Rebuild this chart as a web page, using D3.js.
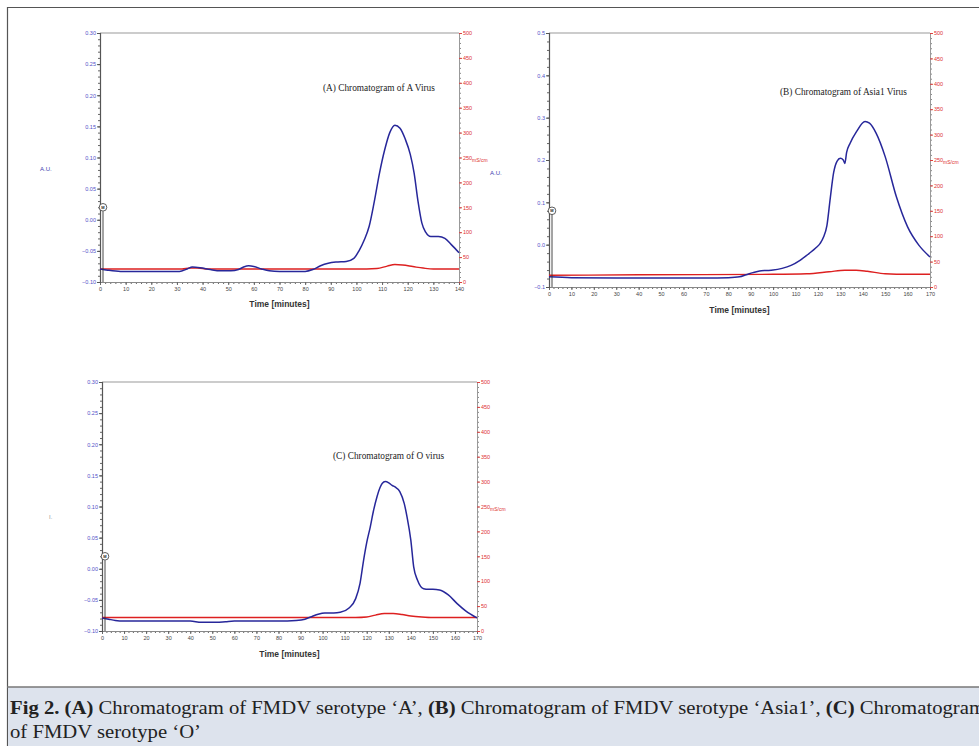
<!DOCTYPE html>
<html>
<head>
<meta charset="utf-8">
<script src="https://cdn.jsdelivr.net/npm/d3@7"></script>
<style>
  body { margin: 0; background: #fff; }
  svg { display: block; }
</style>
</head>
<body>
<script>
// ---- data ----
// (A) serotype A
var timeA = [0, 3, 8, 15, 25, 31, 34, 36, 39, 43, 47, 51, 54, 56, 58, 60, 63, 66, 70, 75, 80, 83, 86, 89, 92, 96, 99, 101, 103, 105, 107, 109, 111, 113, 115, 117, 119, 121, 122.5, 124, 125.5, 127, 129, 132, 134.5, 137, 140];
var uvA = [-0.079, -0.081, -0.083, -0.083, -0.083, -0.083, -0.079, -0.076, -0.077, -0.080, -0.082, -0.082, -0.080, -0.076, -0.074, -0.075, -0.079, -0.082, -0.083, -0.083, -0.083, -0.080, -0.074, -0.070, -0.068, -0.067, -0.062, -0.050, -0.033, -0.010, 0.030, 0.075, 0.112, 0.140, 0.152, 0.147, 0.130, 0.105, 0.075, 0.030, -0.005, -0.020, -0.027, -0.027, -0.030, -0.040, -0.053];
var condTimeA = [0, 32, 35, 38, 42, 100, 108, 112, 115, 118, 122, 126, 130, 140];
var condA = [26, 26, 28, 28, 26, 26, 27, 32, 35, 34, 31, 28, 26, 26];

// (B) serotype Asia1
var timeB = [0, 10, 30, 50, 70, 80, 85, 88, 91, 94, 97, 100, 104, 108, 112, 116, 119, 121, 122.5, 124, 125.5, 127, 128.5, 130, 131.3, 132, 132.8, 134.3, 137.2, 141, 143, 146, 150, 155, 160, 165, 170];
var uvB = [-0.076, -0.078, -0.079, -0.079, -0.079, -0.078, -0.076, -0.071, -0.066, -0.062, -0.061, -0.060, -0.056, -0.049, -0.037, -0.021, -0.008, 0.003, 0.018, 0.045, 0.110, 0.170, 0.197, 0.204, 0.200, 0.192, 0.218, 0.239, 0.267, 0.291, 0.287, 0.263, 0.208, 0.113, 0.042, -0.001, -0.029];
var condTimeB = [0, 40, 100, 115, 125, 132, 137, 142, 150, 160, 170];
var condB = [23, 24, 25, 26, 30, 33, 33, 31, 26, 25, 25];

// (C) serotype O
var timeC = [0, 3, 6, 10, 20, 30, 40, 45, 52, 56, 60, 70, 80, 88, 92, 95, 98, 101, 105, 108, 112, 115, 117, 118.6, 120, 121.6, 123, 124.7, 126, 127, 128.4, 130, 131.5, 133, 135, 137, 138.3, 140, 141.3, 143, 145.8, 148, 150, 153, 157, 161, 165, 170];
var uvC = [-0.079, -0.081, -0.083, -0.084, -0.084, -0.084, -0.084, -0.086, -0.086, -0.085, -0.084, -0.084, -0.084, -0.083, -0.081, -0.077, -0.073, -0.071, -0.071, -0.070, -0.063, -0.048, -0.023, 0.014, 0.042, 0.067, 0.092, 0.116, 0.130, 0.137, 0.140, 0.138, 0.134, 0.131, 0.124, 0.105, 0.083, 0.046, 0.003, -0.018, -0.032, -0.033, -0.033, -0.034, -0.042, -0.056, -0.068, -0.079];
var condTimeC = [0, 115, 120, 124, 128, 132, 136, 140, 145, 150, 170];
var condC = [27, 27, 28, 32, 35, 35, 33, 30, 28, 27, 27];

// ticks
var xTicks140 = [0, 10, 20, 30, 40, 50, 60, 70, 80, 90, 100, 110, 120, 130, 140];
var xTicks170 = [0, 10, 20, 30, 40, 50, 60, 70, 80, 90, 100, 110, 120, 130, 140, 150, 160, 170];
var auTicks030 = [-0.10, -0.05, 0.00, 0.05, 0.10, 0.15, 0.20, 0.25, 0.30];
var auTicks05 = [-0.1, 0.0, 0.1, 0.2, 0.3, 0.4, 0.5];
var condTicks = [0, 50, 100, 150, 200, 250, 300, 350, 400, 450, 500];

var titles = ["(A) Chromatogram of A Virus", "(B) Chromatogram of Asia1 Virus", "(C) Chromatogram of O virus"];

var W = 979, H = 746;
var blue = "#27279a", red = "#dd2020";
var serif = "'Liberation Serif', 'DejaVu Serif', serif";
var sans = "Arial, 'Liberation Sans', sans-serif";

var svg = d3.select("body").append("svg")
            .attr("width", W)
            .attr("height", H);

// outer frame
svg.append("path")
   .attr("d", "M7.5," + H + " L7.5,7.5 L" + (W + 5) + ",7.5")
   .attr("fill", "none")
   .attr("stroke", "#555")
   .attr("stroke-width", 1.2);

// caption band
svg.append("rect")
   .attr("x", 8).attr("y", 687)
   .attr("width", W).attr("height", H - 687)
   .attr("fill", "#dde3ed");
svg.append("line")
   .attr("x1", 7).attr("x2", W).attr("y1", 687).attr("y2", 687)
   .attr("stroke", "#777").attr("stroke-width", 1.5);

var line1 = [["Fig 2. ", true], ["(A)", true], [" Chromatogram of FMDV serotype \u2018A\u2019, ", false], ["(B)", true],
             [" Chromatogram of FMDV serotype \u2018Asia1\u2019, ", false], ["(C)", true], [" Chromatogram", false]];
var cap1 = svg.append("text")
   .attr("x", 10).attr("y", 714)
   .attr("font-family", serif).attr("font-size", 19).attr("fill", "#222");
line1.forEach(function(p){
    cap1.append("tspan").attr("font-weight", p[1] ? "bold" : "normal").text(p[0]);
});
var cap2 = svg.append("text")
   .attr("x", 10).attr("y", 738)
   .attr("font-family", serif).attr("font-size", 19).attr("fill", "#222")
   .text("of FMDV serotype \u2018O\u2019");
// squeeze/stretch to the condensed caption face of the original
var ratio = 975 / cap1.node().getComputedTextLength();
cap1.attr("textLength", 975).attr("lengthAdjust", "spacingAndGlyphs");
cap2.attr("textLength", cap2.node().getComputedTextLength() * ratio).attr("lengthAdjust", "spacingAndGlyphs");

function drawChart(cfg){
    var x = d3.scaleLinear().domain(cfg.xDomain).range([cfg.x0, cfg.x1]);
    var yL = d3.scaleLinear().domain(cfg.auDomain).range([cfg.yBot, cfg.yTop]);
    var yR = d3.scaleLinear().domain([0, 500]).range([cfg.yBot, cfg.yTop]);
    var g = svg.append("g");

    // top border
    g.append("line")
     .attr("x1", cfg.x0).attr("x2", cfg.x1).attr("y1", cfg.yTop).attr("y2", cfg.yTop)
     .attr("stroke", "#999").attr("stroke-width", 1);

    // minor ticks
    var minor = function(axis){
        return axis.tickSize(2).tickFormat("");
    };
    g.append("g").attr("transform", "translate(0," + cfg.yBot + ")")
     .call(minor(d3.axisBottom(x).tickValues(d3.range(cfg.xDomain[0], cfg.xDomain[1] + 0.1, 2))))
     .call(function(s){ s.select(".domain").remove(); s.selectAll("line").attr("stroke", "#666"); });
    g.append("g").attr("transform", "translate(" + cfg.x0 + ",0)")
     .call(minor(d3.axisLeft(yL).tickValues(d3.range(cfg.auDomain[0], cfg.auDomain[1] + 1e-6, cfg.auMinor))))
     .call(function(s){ s.select(".domain").remove(); s.selectAll("line").attr("stroke", "#666"); });
    g.append("g").attr("transform", "translate(" + cfg.x1 + ",0)")
     .call(minor(d3.axisRight(yR).tickValues(d3.range(0, 501, 10))))
     .call(function(s){ s.select(".domain").remove(); s.selectAll("line").attr("stroke", "#888"); });

    // major axes
    var xAxis = g.append("g").attr("transform", "translate(0," + cfg.yBot + ")")
     .call(d3.axisBottom(x).tickValues(cfg.xTicks).tickSize(3).tickPadding(2).tickFormat(d3.format("d")));
    xAxis.select(".domain").attr("stroke", "#888");
    xAxis.selectAll("line").attr("stroke", "#666");
    xAxis.selectAll("text").attr("fill", "#444").attr("font-size", 5.5).attr("font-family", sans);

    var lAxis = g.append("g").attr("transform", "translate(" + cfg.x0 + ",0)")
     .call(d3.axisLeft(yL).tickValues(cfg.auTicks).tickSize(3).tickPadding(1).tickFormat(d3.format(cfg.auFormat)));
    lAxis.select(".domain").attr("stroke", "#555").attr("stroke-width", 1.2);
    lAxis.selectAll("line").attr("stroke", "#555");
    lAxis.selectAll("text").attr("fill", "#5050c8").attr("font-size", 5.5).attr("font-family", sans);

    var rAxis = g.append("g").attr("transform", "translate(" + cfg.x1 + ",0)")
     .call(d3.axisRight(yR).tickValues(condTicks).tickSize(3).tickPadding(1).tickFormat(d3.format("d")));
    rAxis.select(".domain").attr("stroke", "#999");
    rAxis.selectAll("line").attr("stroke", "#dd4040");
    rAxis.selectAll("text").attr("fill", "#dd3030").attr("font-size", 5.5).attr("font-family", sans);

    // conductivity (red) and UV (blue)
    var condLine = d3.line().x(function(d){ return x(d[0]); }).y(function(d){ return yR(d[1]); }).curve(d3.curveMonotoneX);
    var uvLine = d3.line().x(function(d){ return x(d[0]); }).y(function(d){ return yL(d[1]); }).curve(d3.curveMonotoneX);

    g.append("path")
     .datum(d3.zip(cfg.condTime, cfg.cond))
     .attr("d", condLine)
     .attr("fill", "none").attr("stroke", red).attr("stroke-width", 1.4);
    g.append("path")
     .datum(d3.zip(cfg.time, cfg.uv))
     .attr("d", uvLine)
     .attr("fill", "none").attr("stroke", blue).attr("stroke-width", 1.5);

    // injection marker "M"
    var mx = x(cfg.xDomain[0]) + 3, my = yL(cfg.markerAU);
    g.append("line")
     .attr("x1", mx).attr("x2", mx).attr("y1", my + 4).attr("y2", cfg.yBot)
     .attr("stroke", "#333").attr("stroke-width", 0.9);
    g.append("circle")
     .attr("cx", mx).attr("cy", my).attr("r", 3.8)
     .attr("fill", "#fff").attr("stroke", "#333").attr("stroke-width", 0.8);
    g.append("text")
     .attr("x", mx).attr("y", my + 1.6)
     .attr("text-anchor", "middle")
     .attr("font-size", 4).attr("font-weight", "bold")
     .attr("font-family", sans)
     .attr("fill", "#222")
     .text("M");

    // labels
    g.append("text")
     .attr("x", cfg.titleX).attr("y", cfg.titleY)
     .attr("font-family", serif)
     .attr("font-size", 9.3).attr("fill", "#222")
     .text(cfg.title);
    g.append("text")
     .attr("x", (cfg.x0 + cfg.x1) / 2).attr("y", cfg.yBot + cfg.timeDy)
     .attr("text-anchor", "middle")
     .attr("font-family", sans)
     .attr("font-size", 8.5).attr("font-weight", "bold").attr("fill", "#333")
     .text("Time [minutes]");
    g.append("text")
     .attr("x", cfg.x1 + 13).attr("y", yR(250) + 4)
     .attr("font-family", sans)
     .attr("font-size", 5).attr("fill", "#dd3030")
     .text("mS/cm");
    g.append("text")
     .attr("x", cfg.auX).attr("y", cfg.auY)
     .attr("font-family", sans)
     .attr("font-size", 6).attr("fill", cfg.auColor)
     .text(cfg.auLabel);
}

drawChart({
    x0: 100, x1: 459, yTop: 33, yBot: 282,
    xDomain: [0, 140], xTicks: xTicks140,
    auDomain: [-0.10, 0.30], auTicks: auTicks030, auMinor: 0.01, auFormat: ".2f",
    time: timeA, uv: uvA, condTime: condTimeA, cond: condA,
    markerAU: 0.02, title: titles[0], titleX: 323, titleY: 91, timeDy: 25,
    auLabel: "A.U.", auX: 40, auY: 171, auColor: "#4040b0"
});
drawChart({
    x0: 549, x1: 930, yTop: 33, yBot: 287,
    xDomain: [0, 170], xTicks: xTicks170,
    auDomain: [-0.1, 0.5], auTicks: auTicks05, auMinor: 0.02, auFormat: ".1f",
    time: timeB, uv: uvB, condTime: condTimeB, cond: condB,
    markerAU: 0.08, title: titles[1], titleX: 780, titleY: 95, timeDy: 26,
    auLabel: "A.U.", auX: 490, auY: 175, auColor: "#4040b0"
});
drawChart({
    x0: 102, x1: 477, yTop: 382, yBot: 631,
    xDomain: [0, 170], xTicks: xTicks170,
    auDomain: [-0.10, 0.30], auTicks: auTicks030, auMinor: 0.01, auFormat: ".2f",
    time: timeC, uv: uvC, condTime: condTimeC, cond: condC,
    markerAU: 0.02, title: titles[2], titleX: 333, titleY: 459, timeDy: 26,
    auLabel: "I.", auX: 49, auY: 519, auColor: "#999"
});
</script>
</body>
</html>
